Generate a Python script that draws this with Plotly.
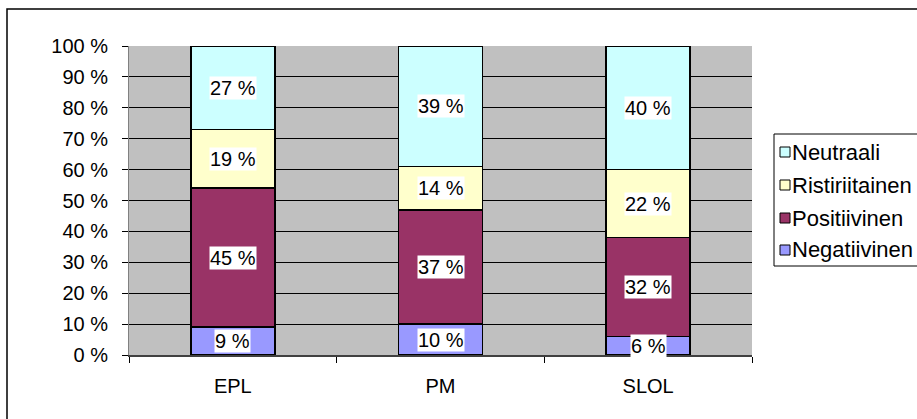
import plotly.graph_objects as go

# Data
categories = ["EPL", "PM", "SLOL"]
series_names = ["Negatiivinen", "Positiivinen", "Ristiriitainen", "Neutraali"]
negatiivinen = [9, 10, 6]
positiivinen = [45, 37, 32]
ristiriitainen = [19, 14, 22]
neutraali = [27, 39, 40]
y_tick_values = [0, 10, 20, 30, 40, 50, 60, 70, 80, 90, 100]
y_tick_labels = ["0 %", "10 %", "20 %", "30 %", "40 %", "50 %",
                 "60 %", "70 %", "80 %", "90 %", "100 %"]

series_values = [negatiivinen, positiivinen, ristiriitainen, neutraali]
colors = ["#9999FF", "#993366", "#FFFFCC", "#CCFFFF"]

FONT = "Liberation Sans, Arial, sans-serif"
W, H = 917, 419
ML, MR, MT, MB = 129, 165, 46, 64
PW, PH = W - ML - MR, H - MT - MB


def px_x(p):
    return (p - ML) / PW


def px_y(p):
    return (H - MB - p) / PH


fig = go.Figure()
for name, vals, col in zip(series_names, series_values, colors):
    fig.add_trace(go.Bar(
        x=categories, y=vals, name=name,
        marker=dict(color=col, line=dict(color="black", width=1.6)),
        width=0.405, hoverinfo="skip",
    ))

# value labels on white boxes, centred in each segment
annotations = []
base = [0] * len(categories)
for vals in series_values:
    for i, (c, v) in enumerate(zip(categories, vals)):
        annotations.append(dict(
            x=c, y=base[i] + v / 2, xref="x", yref="y",
            text=f"{v} %", showarrow=False, bgcolor="white", borderpad=0,
            font=dict(family=FONT, size=20, color="black"),
        ))
        base[i] += v

# legend drawn as a boxed list, top entry = last series
shapes = []
leg_left, leg_right, leg_top, leg_bottom = 774, 920, 134, 266
shapes.append(dict(type="rect", xref="paper", yref="paper",
                   x0=px_x(leg_left), x1=px_x(leg_right),
                   y0=px_y(leg_bottom), y1=px_y(leg_top),
                   line=dict(color="black", width=1), fillcolor="white", layer="above"))
row_y = [152, 185, 218, 250]
for k, (name, col) in enumerate(zip(series_names[::-1], colors[::-1])):
    cy = row_y[k]
    shapes.append(dict(type="rect", xref="paper", yref="paper",
                       x0=px_x(780), x1=px_x(790), y0=px_y(cy + 5), y1=px_y(cy - 5),
                       line=dict(color="black", width=1), fillcolor=col, layer="above"))
    annotations.append(dict(
        x=px_x(790), y=px_y(cy), xref="paper", yref="paper",
        text=name, showarrow=False, xanchor="left", yanchor="middle",
        font=dict(family=FONT, size=22, color="black"),
    ))

# outer chart frame
shapes.append(dict(type="rect", xref="paper", yref="paper",
                   x0=px_x(7), x1=px_x(930), y0=px_y(430), y1=px_y(9),
                   line=dict(color="black", width=1.5), layer="below"))

fig.update_layout(
    width=W, height=H,
    margin=dict(l=ML, r=MR, t=MT, b=MB),
    barmode="stack",
    showlegend=False,
    paper_bgcolor="white",
    plot_bgcolor="#C0C0C0",
    font=dict(family=FONT, size=20, color="black"),
    annotations=annotations,
    shapes=shapes,
    xaxis=dict(
        type="category", range=[-0.5, 2.5],
        showline=True, linecolor="#404040", linewidth=2,
        ticks="outside", tickson="boundaries", ticklen=6, tickcolor="black",
        tickfont=dict(family=FONT, size=20, color="black"),
        showgrid=False, ticklabelstandoff=12,
    ),
    yaxis=dict(
        range=[0, 100], tickvals=y_tick_values, ticktext=y_tick_labels,
        showgrid=True, gridcolor="black", gridwidth=1,
        showline=True, linecolor="#808080", linewidth=1,
        ticks="outside", ticklen=6, tickcolor="black",
        tickfont=dict(family=FONT, size=20, color="black"),
        zeroline=False, ticklabelstandoff=10,
    ),
)

fig.write_html("out.html")
